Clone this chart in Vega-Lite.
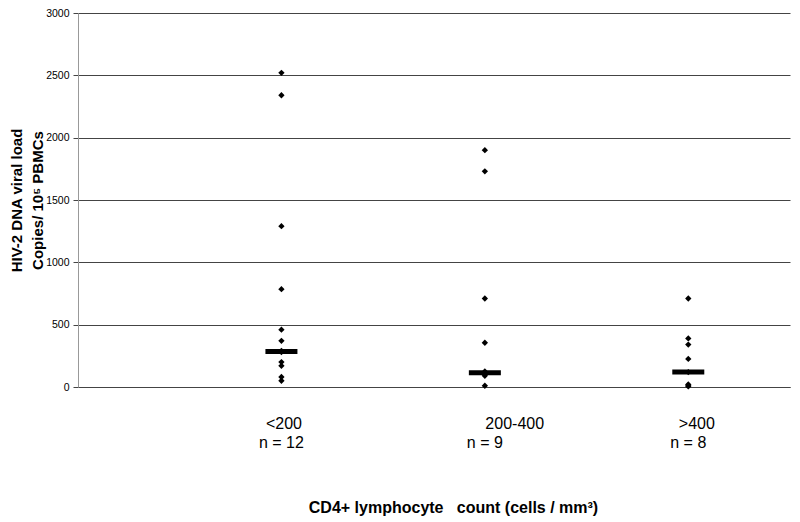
{
  "$schema": "https://vega.github.io/schema/vega-lite/v6.json",
  "width": 712,
  "height": 374,
  "autosize": {"type": "none"},
  "padding": {"left": 78, "top": 13, "right": 10, "bottom": 135},
  "background": "white",
  "config": {"view": {"stroke": null}, "font": "Liberation Sans"},
  "datasets": {
    "points": [
      {"group": 1, "value": 2520}, {"group": 1, "value": 2340}, {"group": 1, "value": 1290},
      {"group": 1, "value": 785}, {"group": 1, "value": 460}, {"group": 1, "value": 370},
      {"group": 1, "value": 290}, {"group": 1, "value": 280}, {"group": 1, "value": 200},
      {"group": 1, "value": 170}, {"group": 1, "value": 80}, {"group": 1, "value": 50},
      {"group": 2, "value": 1900}, {"group": 2, "value": 1730}, {"group": 2, "value": 710},
      {"group": 2, "value": 355}, {"group": 2, "value": 125}, {"group": 2, "value": 115},
      {"group": 2, "value": 110}, {"group": 2, "value": 90}, {"group": 2, "value": 10},
      {"group": 3, "value": 710}, {"group": 3, "value": 390}, {"group": 3, "value": 340},
      {"group": 3, "value": 225}, {"group": 3, "value": 120}, {"group": 3, "value": 20},
      {"group": 3, "value": 15}, {"group": 3, "value": 5}
    ],
    "medians": [
      {"group": 1, "median": 285, "n": "n = 12"},
      {"group": 2, "median": 115, "n": "n = 9"},
      {"group": 3, "median": 120, "n": "n = 8"}
    ]
  },
  "layer": [
    {
      "data": {"name": "points"},
      "mark": {"type": "point", "shape": "diamond", "filled": true, "color": "black", "size": 40, "opacity": 1},
      "encoding": {
        "x": {
          "field": "group", "type": "quantitative",
          "scale": {"domain": [0, 3.5], "nice": false, "zero": true},
          "axis": {
            "values": [1, 2, 3],
            "labelExpr": "datum.value == 1 ? '<200' : datum.value == 2 ? '200-400' : '>400'",
            "grid": false, "ticks": false, "domain": true, "domainColor": "#444",
            "labelFontSize": 16, "labelColor": "black", "labelPadding": 28, "labelFlush": false,
            "labelFont": "Liberation Sans", "labelAlign": "left",
            "labelOffset": {"condition": [{"test": "datum.value == 1", "value": -16}, {"test": "datum.value == 3", "value": -10}], "value": 0},
            "title": "CD4+ lymphocyte \u00a0 count (cells / mm\u00b3)",
            "titleFontSize": 16, "titleFontWeight": "bold", "titleColor": "black",
            "titleFont": "Liberation Sans",
            "titleX": 375, "titleY": 120, "titleBaseline": "middle"
          }
        },
        "y": {
          "field": "value", "type": "quantitative",
          "scale": {"domain": [0, 3000], "nice": false},
          "axis": {
            "values": [0, 500, 1000, 1500, 2000, 2500, 3000],
            "format": "d",
            "grid": true, "gridColor": "#444", "gridWidth": 1, "gridOpacity": 1,
            "domainColor": "#999", "tickColor": "#444", "tickSize": 5,
            "labelFontSize": 10.5, "labelColor": "black", "labelPadding": 4,
            "labelFont": "Liberation Sans",
            "title": ["HIV-2 DNA viral load", "Copies/ 10\u2075 PBMCs"],
            "titleFontSize": 15, "titleFontWeight": "bold", "titleColor": "black",
            "titleFont": "Liberation Sans", "titleLineHeight": 21, "titlePadding": 0
          }
        }
      }
    },
    {
      "data": {"name": "medians"},
      "mark": {"type": "tick", "orient": "horizontal", "color": "black", "size": 32, "thickness": 5, "opacity": 1},
      "encoding": {
        "x": {"field": "group", "type": "quantitative"},
        "y": {"field": "median", "type": "quantitative"}
      }
    },
    {
      "data": {"name": "medians"},
      "mark": {"type": "text", "fontSize": 16, "font": "Liberation Sans", "baseline": "middle", "color": "black"},
      "encoding": {
        "x": {"field": "group", "type": "quantitative"},
        "y": {"datum": -450},
        "text": {"field": "n"}
      }
    }
  ]
}
